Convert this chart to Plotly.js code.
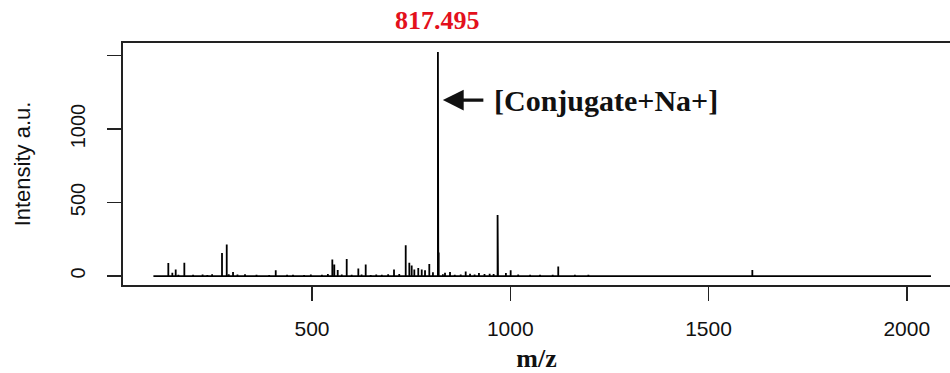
<!DOCTYPE html>
<html>
<head>
<meta charset="utf-8">
<script src="https://cdn.plot.ly/plotly-3.0.1.min.js"></script>
<style>
  html, body { margin: 0; padding: 0; background: #fff; }
  #chart { width: 950px; height: 373px; }
</style>
</head>
<body>
<div id="chart"></div>
<script>
// Spectrum scan limits (m/z)
const scanStart = 100;
const scanEnd = 2061;

// Centroided peaks: m/z and intensity (a.u.)
const peakMz = [
  112, 121, 137.6, 147.7, 156.2, 163, 178, 190, 200, 212, 224, 236, 248, 258,
  273, 284.9, 290, 300.8, 312, 331, 345, 360, 377, 392, 408.5, 420, 437, 452,
  466, 480, 497, 511, 525, 540, 551.2, 556.2, 564.8, 575, 587.5, 600, 616.8,
  625, 635.4, 648, 662, 676, 692, 706.8, 720, 736.3, 745.4, 751.4, 758, 768,
  776.7, 785, 795.8, 805, 817.495, 818.5, 819.5, 830, 835.4, 848, 860, 875,
  887.6, 898.5, 910, 921, 935, 948, 958, 968, 969, 989, 1001, 1020, 1035,
  1050, 1075, 1090, 1107, 1121, 1135, 1163, 1180, 1197, 1226, 1250, 1272,
  1300, 1340, 1380, 1420, 1460, 1500, 1540, 1580, 1610.5, 1640, 1700, 1760,
  1820, 1880, 1940, 2000, 2040
];
const peakInt = [
  6, 4, 88, 23, 45, 8, 91, 6, 9, 5, 10, 7, 12, 5,
  156, 214, 12, 27, 10, 12, 6, 8, 5, 7, 39, 6, 9, 8,
  6, 7, 10, 5, 9, 14, 113, 78, 41, 10, 116, 8, 52,
  10, 78, 7, 10, 8, 12, 44, 14, 209, 91, 72, 44, 54,
  44, 39, 82, 25, 1524, 520, 160, 12, 23, 27, 9, 10,
  30, 15, 10, 20, 14, 15, 13, 415, 120, 20, 39, 10, 6,
  8, 8, 5, 8, 64, 5, 8, 4, 8, 6, 4, 5,
  3, 4, 3, 4, 3, 3, 4, 3, 41, 3, 3, 3,
  3, 3, 3, 3, 3
];

// Annotated base peak
const basePeakMz = 817.495;
const basePeakLabel = basePeakMz.toFixed(3);
const ionLabel = '[Conjugate+Na+]';

// Axis ticks
const xTicks = [500, 1000, 1500, 2000];
const yTicks = [0, 500, 1000, 1500];
const yTickText = ['0', '500', '1000', ''];

// Stick spectrum: baseline with a vertical stroke for every peak
const xs = [scanStart];
const ys = [0];
peakMz.forEach((m, i) => {
  xs.push(m, m, m);
  ys.push(0, peakInt[i], 0);
});
xs.push(scanEnd);
ys.push(0);

const trace = {
  x: xs, y: ys,
  type: 'scatter', mode: 'lines',
  line: { color: '#000', width: 1.8 },
  hoverinfo: 'skip'
};

const serif = 'Liberation Serif, Times New Roman, serif';
const sans = 'Liberation Sans, Arial, Helvetica, sans-serif';

const layout = {
  width: 950, height: 373,
  margin: { l: 123, r: 0, t: 43, b: 88 },
  paper_bgcolor: '#fff', plot_bgcolor: '#fff',
  showlegend: false,
  xaxis: {
    range: [23.3, 2109],
    tickvals: xTicks,
    ticks: 'outside', ticklen: 14, tickwidth: 1.5, tickcolor: '#222',
    ticklabelstandoff: 10,
    showline: true, mirror: true, linewidth: 2, linecolor: '#222',
    showgrid: false, zeroline: false,
    tickfont: { family: sans, size: 21, color: '#111' },
    title: { text: '<b>m/z</b>', font: { family: serif, size: 26, color: '#111' }, standoff: 12 }
  },
  yaxis: {
    range: [-61, 1585],
    tickvals: yTicks, ticktext: yTickText,
    tickangle: -90,
    ticks: 'outside', ticklen: 14, tickwidth: 1.5, tickcolor: '#222',
    ticklabelstandoff: 14,
    showline: true, mirror: false, linewidth: 2, linecolor: '#222',
    showgrid: false, zeroline: false,
    tickfont: { family: sans, size: 20, color: '#111' },
    title: { text: 'Intensity a.u.', font: { family: sans, size: 22, color: '#111' }, standoff: 30 }
  },
  annotations: [
    {
      x: basePeakMz, y: 1, xref: 'x', yref: 'paper',
      yanchor: 'bottom', xanchor: 'center', yshift: 6,
      text: '<b>' + basePeakLabel + '</b>', showarrow: false,
      font: { family: serif, size: 26, color: '#e3101c' }
    },
    {
      x: 830, y: 1197, xref: 'x', yref: 'y',
      ax: 42, ay: 0, text: '', showarrow: true,
      arrowhead: 2, arrowsize: 1.3, arrowwidth: 3.2, arrowcolor: '#111'
    },
    {
      x: 954, y: 1197, xref: 'x', yref: 'y',
      xanchor: 'left', yanchor: 'middle',
      text: '<b>' + ionLabel + '</b>', showarrow: false,
      font: { family: serif, size: 30, color: '#111' }
    }
  ]
};

Plotly.newPlot('chart', [trace], layout, { displayModeBar: false, staticPlot: true });
</script>
</body>
</html>
